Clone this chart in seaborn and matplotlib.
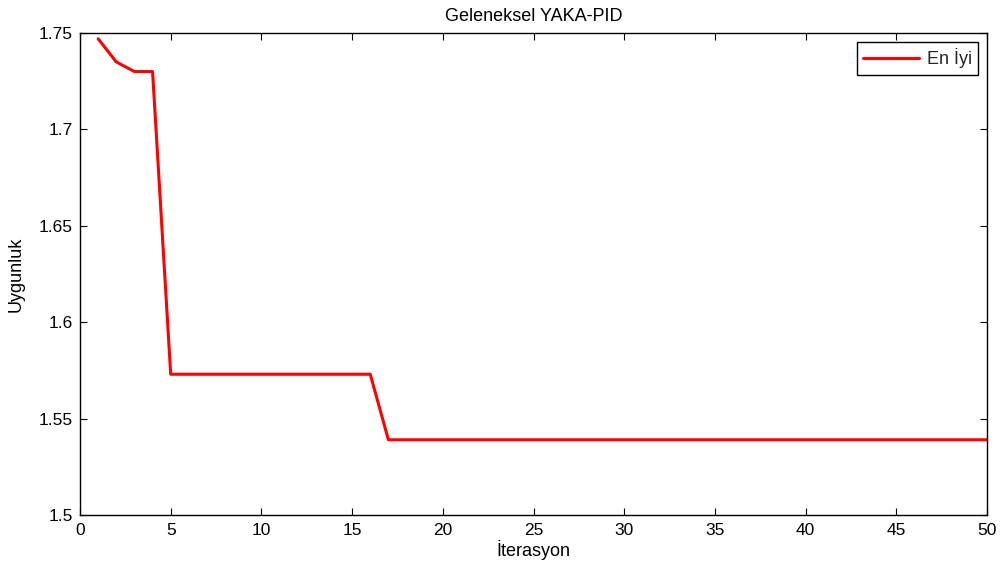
import matplotlib
matplotlib.use("Agg")
import matplotlib.pyplot as plt
import seaborn as sns
import pandas as pd

iterations = list(range(1, 51))
best_fitness = [
    1.747, 1.735, 1.730, 1.730, 1.573, 1.573, 1.573, 1.573, 1.573, 1.573,
    1.573, 1.573, 1.573, 1.573, 1.573, 1.573, 1.539, 1.539, 1.539, 1.539,
    1.539, 1.539, 1.539, 1.539, 1.539, 1.539, 1.539, 1.539, 1.539, 1.539,
    1.539, 1.539, 1.539, 1.539, 1.539, 1.539, 1.539, 1.539, 1.539, 1.539,
    1.539, 1.539, 1.539, 1.539, 1.539, 1.539, 1.539, 1.539, 1.539, 1.539,
]
x_ticks = [0, 5, 10, 15, 20, 25, 30, 35, 40, 45, 50]
y_ticks = [1.5, 1.55, 1.6, 1.65, 1.7, 1.75]
y_tick_labels = ["1.5", "1.55", "1.6", "1.65", "1.7", "1.75"]

sns.set_theme(style="white")
plt.rcParams["font.family"] = ["Liberation Sans", "DejaVu Sans"]

df = pd.DataFrame({"İterasyon": iterations, "Uygunluk": best_fitness})

fig = plt.figure(figsize=(10, 5.72), dpi=100)
ax = fig.add_axes([0.080, 0.0997, 0.907, 0.8426])

sns.lineplot(data=df, x="İterasyon", y="Uygunluk", color="#ff0000",
             linewidth=2.2, label="En İyi", ax=ax)

ax.set_xlim(0, 50)
ax.set_ylim(1.5, 1.75)
ax.set_xticks(x_ticks)
ax.set_yticks(y_ticks)
ax.set_yticklabels(y_tick_labels)
ax.tick_params(axis="both", which="both", direction="in", length=5, width=0.8,
               color="black", labelsize=12.5, labelcolor="black",
               top=True, right=True, bottom=True, left=True)
ax.tick_params(axis="x", pad=6)
ax.tick_params(axis="y", pad=5)
for side in ax.spines.values():
    side.set_color("black")
    side.set_linewidth(1.0)

ax.set_xlabel("İterasyon", fontsize=13, color="black", labelpad=1)
ax.set_ylabel("Uygunluk", fontsize=13, color="black", labelpad=10)
ax.set_title("Geleneksel YAKA-PID", fontsize=13, color="black", pad=9)

leg = ax.legend(loc="upper right", fontsize=13, frameon=True, fancybox=False,
                edgecolor="black", framealpha=1, borderaxespad=0.5,
                handlelength=3.1, handletextpad=0.4, borderpad=0.35)
leg.get_frame().set_linewidth(1.0)

fig.savefig("out.png", dpi=100, facecolor="white")
